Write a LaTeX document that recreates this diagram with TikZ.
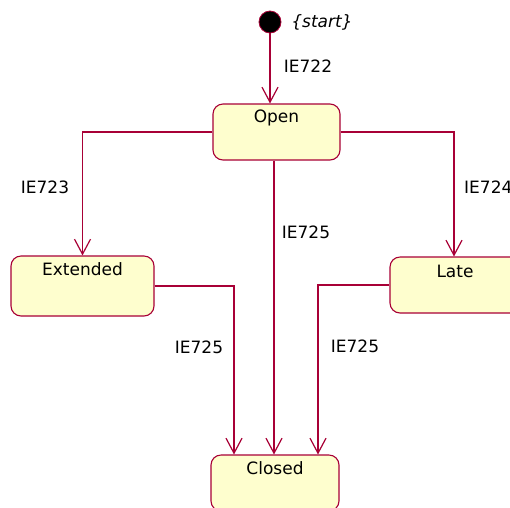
\documentclass[tikz,border=0pt]{standalone}
\usepackage{fontspec}
\setmainfont{DejaVu Sans}
\usetikzlibrary{arrows.meta}
\definecolor{umlred}{HTML}{A80036}
\definecolor{umlfill}{HTML}{FEFECE}
\tikzset{
  statebox/.style={draw=umlred, fill=umlfill, line width=1.1pt, rounded corners=10pt, inner sep=0pt},
  statename/.style={font=\fontsize{17}{20}\selectfont, text=black, inner sep=0pt},
  lbl/.style={font=\fontsize{17}{20}\selectfont, text=black, inner sep=0pt},
  arr/.style={draw=umlred, line width=1.2pt, -{Straight Barb[length=15pt,width=16pt,line width=1.2pt]}},
}
\begin{document}
\begin{tikzpicture}[x=1pt,y=-1pt]
\clip (0,0) rectangle (510,507);
\useasboundingbox (0,0) rectangle (510,507);
\fill[white] (0,0) rectangle (510,507);
% start
\node[circle, fill=black, draw=umlred, line width=0.8pt, minimum size=22pt, inner sep=0pt] (start) at (270,22) {};
\node[lbl, font=\fontsize{17}{20}\selectfont\itshape] (startlbl) at (322,22) {\{start\}};
% states
\node[statebox, minimum width=127pt, minimum height=56pt] (open) at (276.5,132) {};
\node[statename] (openname) at ([yshift=-15pt]open.north) {Open};
\node[statebox, minimum width=143pt, minimum height=60pt] (ext) at (82.5,286) {};
\node[statename] (extname) at ([yshift=-14pt]ext.north) {Extended};
\node[statebox, minimum width=130pt, minimum height=56pt] (late) at (455,285) {};
\node[statename] (latename) at ([yshift=-15pt]late.north) {Late};
\node[statebox, minimum width=128pt, minimum height=56pt] (closed) at (275,483) {};
\node[statename] (closedname) at ([yshift=-14pt]closed.north) {Closed};
% connectors
\draw[arr] (start.south) -- (start.south |- open.north);
\draw[arr] (open.west) -| (ext.north);
\draw[arr] (open.east) -| ([xshift=-1pt]late.north);
\draw[arr] ([xshift=-1pt]closed.north |- open.south) -- ([xshift=-1pt]closed.north);
\draw[arr] (ext.east) -| ([xshift=-41pt]closed.north);
\draw[arr] (late.west) -| ([xshift=43pt]closed.north);
% labels
\node[lbl] (l722) at (308,66) {IE722};
\node[lbl] (l723) at (45,187) {IE723};
\node[lbl, anchor=west] (l724) at (464,187) {IE724};
\node[lbl] (l725a) at (306,232) {IE725};
\node[lbl] (l725b) at (199,347) {IE725};
\node[lbl] (l725c) at (355,346) {IE725};
\end{tikzpicture}
\end{document}
